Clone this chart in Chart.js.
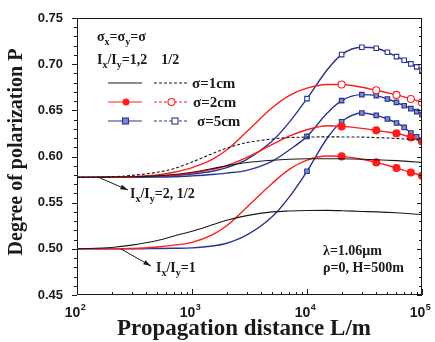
<!DOCTYPE html>
<html>
<head>
<meta charset="utf-8">
<script src="https://cdn.jsdelivr.net/npm/chart.js@4"></script>
<style>
  body { margin: 0; background: #fff; }
  canvas { display: block; }
</style>
</head>
<body>
<canvas id="polChart" width="435" height="342"></canvas>
<script>
// propagation distance L (m)
const distances = [100, 200, 300, 500, 700, 1000, 1500, 2000, 3000, 5000, 7000,
  10000, 15000, 20000, 30000, 40000, 50000, 60000, 70000, 80000, 90000, 100000];

// sigma = 1cm
const s1Equal = [0.500, 0.5015, 0.504, 0.509, 0.514, 0.519, 0.526, 0.531, 0.536, 0.540, 0.541,
  0.5415, 0.5416, 0.5413, 0.5405, 0.540, 0.5395, 0.539, 0.5385, 0.538, 0.5375, 0.537];
const s1Two = [0.5774, 0.5777, 0.578, 0.579, 0.5805, 0.583, 0.587, 0.590, 0.5935, 0.596, 0.597,
  0.5975, 0.5976, 0.5975, 0.597, 0.5965, 0.596, 0.5955, 0.595, 0.5945, 0.594, 0.5935];
const s1Half = [0.5774, 0.578, 0.5795, 0.583, 0.587, 0.594, 0.603, 0.609, 0.615, 0.619, 0.6205,
  0.621, 0.6213, 0.6212, 0.621, 0.6205, 0.620, 0.6195, 0.619, 0.6185, 0.618, 0.6175];

// sigma = 2cm
const s2Equal = [0.500, 0.500, 0.5003, 0.502, 0.504, 0.507, 0.515, 0.525, 0.545, 0.571, 0.586,
  0.596, 0.6005, 0.6001, 0.597, 0.5936, 0.5905, 0.5875, 0.585, 0.5827, 0.581, 0.5791];
const s2Two = [0.5774, 0.5775, 0.5778, 0.579, 0.580, 0.582, 0.586, 0.590, 0.599, 0.613, 0.622,
  0.629, 0.6333, 0.6326, 0.6305, 0.6283, 0.6265, 0.625, 0.623, 0.6207, 0.6185, 0.6163];
const s2Half = [0.5774, 0.5777, 0.578, 0.580, 0.583, 0.588, 0.597, 0.607, 0.627, 0.653, 0.666,
  0.674, 0.678, 0.6779, 0.675, 0.6717, 0.669, 0.6667, 0.6645, 0.6623, 0.6605, 0.6586];

// sigma = 5cm
const s5Equal = [0.500, 0.500, 0.500, 0.5003, 0.5006, 0.501, 0.503, 0.506, 0.515, 0.535, 0.556,
  0.584, 0.620, 0.6377, 0.6471, 0.6445, 0.6406, 0.6363, 0.6315, 0.6255, 0.6214, 0.6176];
const s5Two = [0.5774, 0.5774, 0.5775, 0.5778, 0.578, 0.579, 0.5805, 0.582, 0.585, 0.595, 0.607,
  0.6218, 0.647, 0.6605, 0.667, 0.6659, 0.6623, 0.6586, 0.655, 0.6518, 0.6486, 0.6453];
const s5Half = [0.5774, 0.5775, 0.5777, 0.5785, 0.5795, 0.581, 0.584, 0.588, 0.597, 0.617, 0.637,
  0.6627, 0.694, 0.7104, 0.7183, 0.7172, 0.7129, 0.7082, 0.7042, 0.7003, 0.6971, 0.6934];

// where the symbols sit
const redMarks = [20000, 40000, 60000, 80000, 100000];
const blueMarks = [10000, 20000, 30000, 40000, 50000, 60000, 70000, 80000, 90000, 100000];

const xTicks = [100, 1000, 10000, 100000];
const yTicks = [0.45, 0.50, 0.55, 0.60, 0.65, 0.70, 0.75];

const BLACK = '#1a1a1a';
const RED = '#ff1c1c';
const BLUE = '#283593';
const SERIF = '"Liberation Serif", "Times New Roman", serif';
const SANS = '"Liberation Sans", Arial, sans-serif';

const pts = arr => distances.map((d, i) => ({ x: d, y: arr[i] }));

function line(values, color, opts) {
  const marks = opts.marks || [];
  return Object.assign({
    data: pts(values),
    borderColor: color,
    borderWidth: 1.1,
    cubicInterpolationMode: 'monotone',
    pointRadius: ctx => marks.includes(distances[ctx.dataIndex]) ? (opts.size || 3) : 0,
    pointHoverRadius: 0,
    pointStyle: opts.style || 'circle',
    pointBackgroundColor: opts.fill || color,
    pointBorderColor: color,
    pointBorderWidth: 1.1,
    fill: false
  }, opts.extra || {});
}

function rich(ctx, x, y, parts, size) {
  ctx.textAlign = 'left';
  ctx.textBaseline = 'alphabetic';
  parts.forEach(([t, kind]) => {
    if (kind === 'sub') {
      ctx.font = 'bold ' + Math.round(size * 0.68) + 'px ' + SERIF;
      ctx.fillText(t, x, y + size * 0.3);
    } else {
      ctx.font = 'bold ' + size + 'px ' + SERIF;
      ctx.fillText(t, x, y);
    }
    x += ctx.measureText(t).width;
  });
}

function arrow(ctx, x1, y1, x2, y2) {
  const a = Math.atan2(y2 - y1, x2 - x1);
  ctx.beginPath();
  ctx.moveTo(x1, y1);
  ctx.lineTo(x2, y2);
  ctx.stroke();
  ctx.beginPath();
  ctx.moveTo(x2, y2);
  ctx.lineTo(x2 - 8 * Math.cos(a - 0.3), y2 - 8 * Math.sin(a - 0.3));
  ctx.lineTo(x2 - 8 * Math.cos(a + 0.3), y2 - 8 * Math.sin(a + 0.3));
  ctx.closePath();
  ctx.fill();
}

const decor = {
  id: 'decor',
  afterDraw(chart) {
    const { ctx, chartArea: a, scales: { x, y } } = chart;
    ctx.save();
    ctx.strokeStyle = BLACK;
    ctx.fillStyle = BLACK;
    ctx.lineWidth = 1;
    ctx.strokeRect(a.left + 0.5, a.top + 0.5, a.right - a.left - 1, a.bottom - a.top - 1);

    // y ticks: outward on the left, inward on the right
    ctx.beginPath();
    for (let v = 45; v <= 75; v++) {
      const py = Math.round(y.getPixelForValue(v / 100)) + 0.5;
      const len = v % 5 === 0 ? 5 : 3;
      ctx.moveTo(a.left - len, py); ctx.lineTo(a.left, py);
      ctx.moveTo(a.right, py); ctx.lineTo(a.right - len, py);
    }
    // x ticks: inward
    for (let e = 2; e < 5; e++) {
      for (let m = 1; m <= 10; m++) {
        const px = Math.round(x.getPixelForValue(m * Math.pow(10, e))) + 0.5;
        const len = (m === 1 || m === 10) ? 6 : 3;
        ctx.moveTo(px, a.bottom); ctx.lineTo(px, a.bottom - len);
      }
    }
    ctx.stroke();

    // x tick labels 10^n
    xTicks.forEach(t => {
      const px = x.getPixelForValue(t);
      const exp = String(Math.round(Math.log10(t)));
      ctx.font = 'bold 14px ' + SANS;
      const w1 = ctx.measureText('10').width;
      ctx.font = 'bold 9px ' + SANS;
      const w2 = ctx.measureText(exp).width;
      const x0 = px - (w1 + w2) / 2 - 2;
      ctx.textAlign = 'left';
      ctx.textBaseline = 'alphabetic';
      ctx.font = 'bold 14px ' + SANS;
      ctx.fillText('10', x0, 317);
      ctx.font = 'bold 9px ' + SANS;
      ctx.fillText(exp, x0 + w1 + 0.5, 310);
    });

    // axis titles
    ctx.font = 'bold 23px ' + SERIF;
    ctx.textAlign = 'center';
    ctx.fillText('Propagation distance L/m', 244, 335);
    ctx.save();
    ctx.translate(22, 152);
    ctx.rotate(-Math.PI / 2);
    ctx.font = 'bold 20px ' + SERIF;
    ctx.fillText('Degree of polarization P', 0, 0);
    ctx.restore();

    // notes
    rich(ctx, 97, 41, [['σ', ''], ['x', 'sub'], ['=σ', ''], ['y', 'sub'], ['=σ', '']], 14);
    rich(ctx, 97, 64, [['I', ''], ['x', 'sub'], ['/I', ''], ['y', 'sub'], ['=1,2    1/2', '']], 14);
    rich(ctx, 130, 198, [['I', ''], ['x', 'sub'], ['/I', ''], ['y', 'sub'], ['=2, 1/2', '']], 14);
    rich(ctx, 156, 272, [['I', ''], ['x', 'sub'], ['/I', ''], ['y', 'sub'], ['=1', '']], 14);
    rich(ctx, 323, 255, [['λ=1.06μm', '']], 14);
    rich(ctx, 323, 272, [['ρ=0, H=500m', '']], 14);
    arrow(ctx, 100, 178, 128, 190);
    arrow(ctx, 121, 249, 151, 266);

    // legend
    const rows = [
      { y: 83, color: BLACK, label: 'σ=1cm', tx: 192 },
      { y: 102, color: RED, label: 'σ=2cm', tx: 193, mark: 'circle' },
      { y: 121, color: BLUE, label: 'σ=5cm', tx: 197, mark: 'rect' }
    ];
    rows.forEach(r => {
      ctx.strokeStyle = r.color;
      ctx.lineWidth = 1.1;
      ctx.setLineDash([]);
      ctx.beginPath(); ctx.moveTo(108, r.y); ctx.lineTo(142, r.y); ctx.stroke();
      ctx.setLineDash([3, 2]);
      ctx.beginPath(); ctx.moveTo(154, r.y); ctx.lineTo(188, r.y); ctx.stroke();
      ctx.setLineDash([]);
      if (r.mark === 'circle') {
        ctx.fillStyle = RED;
        ctx.beginPath(); ctx.arc(126, r.y, 3.5, 0, Math.PI * 2); ctx.fill();
        ctx.fillStyle = '#fff';
        ctx.beginPath(); ctx.arc(171.5, r.y, 3.5, 0, Math.PI * 2); ctx.fill(); ctx.stroke();
      } else if (r.mark === 'rect') {
        ctx.fillStyle = '#7d88c8';
        ctx.fillRect(122.5, r.y - 3, 6, 6); ctx.strokeRect(122.5, r.y - 3, 6, 6);
        ctx.fillStyle = '#fff';
        ctx.fillRect(172, r.y - 3, 6, 6); ctx.strokeRect(172, r.y - 3, 6, 6);
      }
      ctx.fillStyle = BLACK;
      rich(ctx, r.tx, r.y + 5, [[r.label, '']], 15);
    });
    ctx.restore();
  }
};

new Chart(document.getElementById('polChart'), {
  type: 'line',
  data: {
    datasets: [
      line(s1Equal, BLACK, {}),
      line(s1Two, BLACK, {}),
      line(s1Half, BLACK, { extra: { borderDash: [3, 2] } }),
      line(s2Equal, RED, { marks: redMarks, size: 3.5, extra: { borderWidth: 1.4 } }),
      line(s2Two, RED, { marks: redMarks, size: 3.5, extra: { borderWidth: 1.4 } }),
      line(s2Half, RED, { marks: redMarks, size: 3.5, fill: '#fff', extra: { borderWidth: 1.4 } }),
      line(s5Equal, BLUE, { marks: blueMarks, style: 'rect', size: 3.2, fill: '#7d88c8', extra: { borderWidth: 1.4 } }),
      line(s5Two, BLUE, { marks: blueMarks, style: 'rect', size: 3.2, fill: '#7d88c8', extra: { borderWidth: 1.4 } }),
      line(s5Half, BLUE, { marks: blueMarks, style: 'rect', size: 3.2, fill: '#fff', extra: { borderWidth: 1.4 } })
    ]
  },
  options: {
    responsive: false,
    animation: false,
    devicePixelRatio: 1,
    layout: { padding: { top: 18, right: 13, left: 0, bottom: 0 } },
    plugins: { legend: { display: false }, tooltip: { enabled: false } },
    scales: {
      x: {
        type: 'logarithmic',
        min: 100,
        max: 100000,
        grid: { display: false },
        border: { display: false },
        ticks: { display: false },
        afterFit: s => { s.height = 47; }
      },
      y: {
        min: 0.45,
        max: 0.75,
        grid: { display: false },
        border: { display: false },
        afterBuildTicks: s => { s.ticks = yTicks.map(v => ({ value: v })); },
        ticks: {
          color: BLACK,
          padding: 6,
          font: { family: SANS, size: 13, weight: 'bold' },
          callback: v => v.toFixed(2)
        },
        afterFit: s => { s.width = 77; }
      }
    }
  },
  plugins: [decor]
});
</script>
</body>
</html>
